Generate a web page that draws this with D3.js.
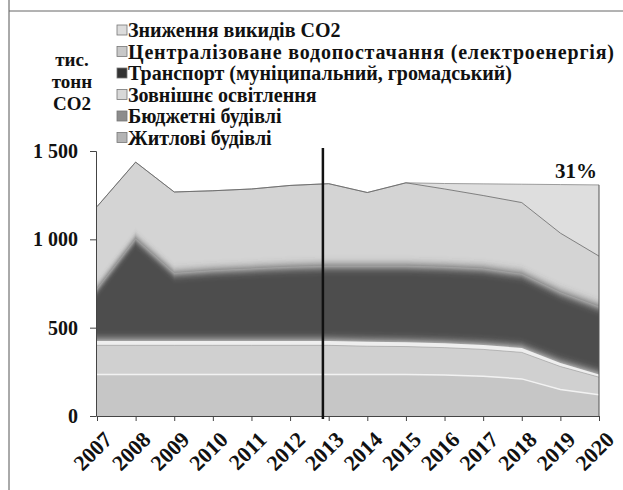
<!DOCTYPE html>
<html>
<head>
<meta charset="utf-8">
<script src="https://cdn.jsdelivr.net/npm/d3@7"></script>
<style>
  body { margin: 0; background: #fff; }
  svg { display: block; }
</style>
</head>
<body>
<div id="chart"></div>
<script>
// data (thousand tonnes CO2)
const years = [2007, 2008, 2009, 2010, 2011, 2012, 2013, 2014, 2015, 2016, 2017, 2018, 2019, 2020];
const residential = [235, 235, 235, 235, 235, 235, 235, 235, 235, 232, 225, 210, 150, 120];
const budget = [165, 165, 165, 165, 165, 165, 165, 160, 158, 155, 152, 150, 130, 100];
const lighting = [25, 25, 25, 25, 25, 25, 25, 25, 25, 25, 25, 25, 20, 15];
const transport = [295, 580, 385, 400, 410, 420, 425, 430, 432, 433, 433, 420, 400, 385];
const water = [465, 432, 458, 450, 450, 460, 465, 415, 470, 440, 413, 403, 335, 285];
const reduction = [0, 0, 0, 0, 0, 0, 0, 0, 0, 31, 66, 104, 275, 403];

const keys = ['residential', 'budget', 'lighting', 'transport', 'water', 'reduction'];
const labels = {
  reduction: 'Зниження викидів CO2',
  water: 'Централізоване водопостачання (електроенергія)',
  transport: 'Транспорт (муніципальний, громадський)',
  lighting: 'Зовнішнє освітлення',
  budget: 'Бюджетні будівлі',
  residential: 'Житлові будівлі',
};
const fills = {
  residential: '#c6c6c6',
  budget: '#d0d0d0',
  lighting: '#eeeeee',
  transport: '#4e4e4e',
  water: '#d4d4d4',
  reduction: '#dedede',
};
const swatches = {
  reduction: '#dcdcdc',
  water: '#c8c8c8',
  transport: '#333333',
  lighting: '#d8d8d8',
  budget: '#8c8c8c',
  residential: '#b4b4b4',
};
const yTicks = [0, 500, 1000, 1500];
const unitLines = ['тис.', 'тонн', 'CO2'];
const markerYear = 2012.85;
const reductionLabel = '31%';

const width = 623;
const height = 490;
const fontFamily = "'Liberation Serif', 'Times New Roman', serif";
// the scanned legend line for water is set wider than the rest
const legendStretch = { water: 486 };

const table = years.map((y, i) => ({
  year: y,
  residential: residential[i],
  budget: budget[i],
  lighting: lighting[i],
  transport: transport[i],
  water: water[i],
  reduction: reduction[i],
}));

const series = d3.stack().keys(keys)(table);

const x = d3.scaleLinear().domain([2007, 2020]).range([97, 599]);
const y = d3.scaleLinear().domain([0, 1500]).range([416, 151]);

const svg = d3
  .select('#chart')
  .append('svg')
  .attr('width', width)
  .attr('height', height)
  .style('font-family', fontFamily)
  .style('font-weight', 'bold');

// frame of the scanned page
svg.append('line')
  .attr('x1', 9).attr('x2', 9)
  .attr('y1', 0).attr('y2', height)
  .attr('stroke', '#555').attr('stroke-width', 1);
svg.append('line')
  .attr('x1', 9).attr('x2', width)
  .attr('y1', 11).attr('y2', 11)
  .attr('stroke', '#666').attr('stroke-width', 1);

const defs = svg.append('defs');
defs.append('filter')
  .attr('id', 'soft')
  .attr('y', '-20%').attr('height', '140%')
  .append('feGaussianBlur')
  .attr('stdDeviation', '0 5');
defs.append('clipPath')
  .attr('id', 'plot')
  .append('rect')
  .attr('x', x(2007)).attr('y', y(1500) - 5)
  .attr('width', x(2020) - x(2007)).attr('height', y(0) - y(1500) + 5);

const area = d3.area()
  .x((d) => x(d.data.year))
  .y0((d) => y(d[0]))
  .y1((d) => y(d[1]));

const topLine = d3.line()
  .x((d) => x(d.data.year))
  .y((d) => y(d[1]));

const plot = svg.append('g').attr('clip-path', 'url(#plot)');
const byKey = {};
series.forEach((s) => { byKey[s.key] = s; });

// upper layers first, transport softened, lower layers over its foot
['reduction', 'water', 'transport', 'lighting', 'budget', 'residential'].forEach((k) => {
  plot.append('path')
    .datum(byKey[k])
    .attr('d', area)
    .attr('fill', fills[k])
    .attr('filter', k === 'transport' ? 'url(#soft)' : null);
});

plot.append('path')
  .datum(byKey.reduction)
  .attr('d', topLine)
  .attr('fill', 'none')
  .attr('stroke', '#888')
  .attr('stroke-width', 0.8);
plot.append('path')
  .datum(byKey.water)
  .attr('d', topLine)
  .attr('fill', 'none')
  .attr('stroke', '#666')
  .attr('stroke-width', 0.8);
plot.append('path')
  .datum(byKey.residential)
  .attr('d', topLine)
  .attr('fill', 'none')
  .attr('stroke', '#f2f2f2')
  .attr('stroke-width', 1.5);
plot.append('path')
  .datum(byKey.budget)
  .attr('d', topLine)
  .attr('fill', 'none')
  .attr('stroke', '#999')
  .attr('stroke-width', 0.6);

// right edge of the areas
const last = table[table.length - 1];
svg.append('line')
  .attr('x1', x(2020)).attr('x2', x(2020))
  .attr('y1', y(keys.reduce((s, k) => s + last[k], 0)))
  .attr('y2', y(0))
  .attr('stroke', '#555').attr('stroke-width', 1);

// axes
const yAxis = d3.axisLeft(y)
  .tickValues(yTicks)
  .tickSize(6)
  .tickPadding(12)
  .tickFormat((d) => d3.format(',')(d).replace(',', ' '));

svg.append('g')
  .attr('transform', `translate(${x(2007) - 1},0)`)
  .call(yAxis)
  .attr('font-family', null)
  .call((g) => g.select('.domain').attr('stroke', '#444'))
  .call((g) => g.selectAll('.tick line').attr('stroke', '#444'))
  .call((g) => g.selectAll('.tick text')
    .attr('font-size', 20)
    .attr('fill', '#111'));

const xAxis = d3.axisBottom(x)
  .tickValues(years)
  .tickSize(5)
  .tickFormat(d3.format('d'));

svg.append('g')
  .attr('transform', `translate(0,${y(0)})`)
  .call(xAxis)
  .attr('font-family', null)
  .call((g) => g.select('.domain').attr('stroke', '#444'))
  .call((g) => g.selectAll('.tick line').attr('stroke', '#444'))
  .call((g) => g.selectAll('.tick text')
    .attr('font-size', 22)
    .attr('fill', '#111')
    .attr('text-anchor', 'end')
    .attr('dy', null)
    .attr('y', null)
    .attr('transform', 'translate(16,25) rotate(-45)'));

// marker line
svg.append('line')
  .attr('x1', x(markerYear)).attr('x2', x(markerYear))
  .attr('y1', y(1500) - 3).attr('y2', y(0) + 3)
  .attr('stroke', '#111')
  .attr('stroke-width', 2.5);

svg.append('text')
  .attr('x', x(2020) - 2)
  .attr('y', 178)
  .attr('text-anchor', 'end')
  .attr('font-size', 21)
  .attr('fill', '#111')
  .text(reductionLabel);

// unit label
svg.append('g')
  .selectAll('text')
  .data(unitLines)
  .join('text')
  .attr('x', 72)
  .attr('y', (d, i) => 66 + i * 22)
  .attr('text-anchor', 'middle')
  .attr('font-size', 19)
  .attr('fill', '#111')
  .text((d) => d);

// legend, top series first
const legend = svg.append('g')
  .selectAll('g')
  .data(keys.slice().reverse())
  .join('g')
  .attr('transform', (d, i) => `translate(117,${30 + i * 21.5})`);

legend.append('rect')
  .attr('x', 0).attr('y', -5)
  .attr('width', 10).attr('height', 10)
  .attr('fill', (d) => swatches[d])
  .attr('stroke', '#777')
  .attr('stroke-width', 0.8);

legend.append('text')
  .attr('x', 11)
  .attr('y', 7)
  .attr('font-size', 20)
  .attr('fill', '#111')
  .attr('textLength', (d) => legendStretch[d] || null)
  .attr('lengthAdjust', 'spacing')
  .text((d) => labels[d]);
</script>
</body>
</html>
